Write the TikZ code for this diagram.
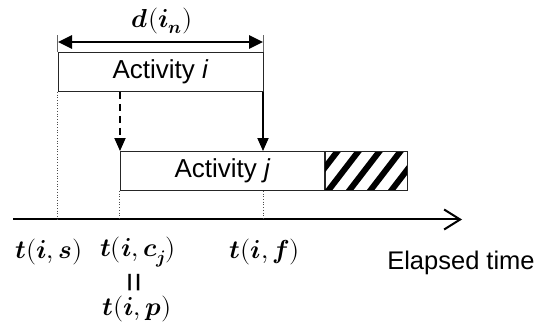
\documentclass[tikz,border=0pt]{standalone}
\usepackage{amsmath}
\usepackage{fontspec}
\usepackage{unicode-math}
\setmainfont{Liberation Sans}
\setmathfont{Latin Modern Math}
\usetikzlibrary{arrows.meta}
\newcommand{\bc}{\mathpunct{\mathbf{,}}}
\tikzset{
  actbox/.style={draw=black!85, line width=0.9pt, minimum height=39pt, inner sep=0pt,
    font=\fontsize{26}{29}\selectfont},
  mlabel/.style={inner sep=0pt, font=\fontsize{26}{30}\selectfont},
  tlabel/.style={inner sep=0pt, font=\fontsize{25.5}{28}\selectfont},
  dotline/.style={draw=black!70, line width=0.7pt, dotted},
  extline/.style={draw=black!60, line width=0.7pt},
  depend/.style={line width=1.8pt, -{Triangle[length=13pt,width=11pt]}},
}
\begin{document}
\begin{tikzpicture}[x=1pt,y=-1pt]
\useasboundingbox (0,0) rectangle (539,323);
% activity boxes
\node[actbox, minimum width=205pt] (ai) at (160.5,72) {Activity \textit{i}};
\node[actbox, minimum width=205pt] (aj) at (222.5,171) {Activity \textit{j}};
\node[actbox, minimum width=82pt] (hatch) at (366,171) {};
\begin{scope}
  \clip (hatch.south west) rectangle (hatch.north east);
  \foreach \k in {0,...,6} {
    \draw[line width=6pt] ({300+21*\k},200) -- ({300+21*\k+40},148);
  }
\end{scope}
\draw[draw=black!85, line width=0.9pt] (hatch.south west) rectangle (hatch.north east);
% duration arrow
\coordinate (dl) at (58,42);
\coordinate (dr) at (263,42);
\draw[extline] (ai.north west) -- ++(0,-17);
\draw[extline] (ai.north east) -- ++(0,-17);
\draw[line width=2.6pt, {Triangle[length=14pt,width=13pt]}-{Triangle[length=14pt,width=13pt]}] (dl) -- (dr);
\node[mlabel] (dlab) at (162,21) {$\symbfit{d}\mathbf{(}\symbfit{i}_{\symbfit{n}}\mathbf{)}$};
% dependency arrows
\coordinate (ds) at (120,92);
\coordinate (fs) at (263,92);
\draw[depend, dashed, dash pattern=on 7pt off 5pt] (ds) -- (ds |- aj.north);
\draw[depend] (fs) -- (fs |- aj.north);
% time axis
\coordinate (ax0) at (13,219.5);
\coordinate (ax1) at (462,219.5);
\draw[line width=2pt, -{Straight Barb[length=16pt,width=20pt,line width=2pt]}] (ax0) -- (ax1);
\draw[dotline] (ai.south west) -- (ai.south west |- ax0);
\draw[dotline] (aj.south west) -- (aj.south west |- ax0);
\draw[dotline] (fs |- aj.south) -- (fs |- ax0);
% labels
\node[mlabel] (ts) at (49,252) {$\symbfit{t}\mathbf{(}\symbfit{i}\bc\symbfit{s}\mathbf{)}$};
\node[mlabel] (tc) at (138,252) {$\symbfit{t}\mathbf{(}\symbfit{i}\bc\symbfit{c}_{\symbfit{j}}\mathbf{)}$};
\node[mlabel] (tf) at (265,252) {$\symbfit{t}\mathbf{(}\symbfit{i}\bc\symbfit{f}\mathbf{)}$};
\node[tlabel] (el) at (461,263) {Elapsed time};
\node[inner sep=0pt, rotate=90, font=\fontsize{34}{38}\selectfont] (eq) at (137,283) {=};
\node[mlabel] (tp) at (137,309) {$\symbfit{t}\mathbf{(}\symbfit{i}\bc\symbfit{p}\mathbf{)}$};
\end{tikzpicture}
\end{document}
